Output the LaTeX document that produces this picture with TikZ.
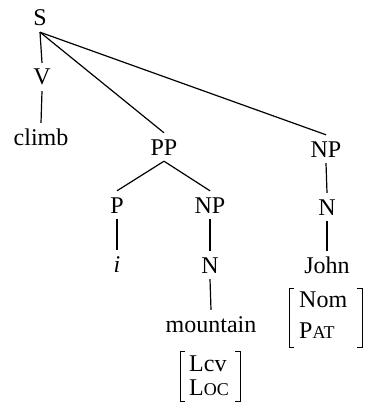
\documentclass[tikz,border=0pt]{standalone}
\usepackage{fontspec}
\setmainfont{Liberation Serif}
\newcommand{\fsc}[1]{{\fontsize{18}{20}\selectfont #1}}
\begin{document}
\begin{tikzpicture}[x=1pt,y=1pt,
  lab/.style={anchor=base,inner xsep=1pt,inner ysep=6pt,text height=16pt,text depth=0pt,font=\fontsize{24}{26}\selectfont},
  row/.style={anchor=base west,inner sep=0pt,font=\fontsize{24}{26}\selectfont},
  edge/.style={line width=1.2pt},
  brk/.style={line width=1pt}]
\useasboundingbox (0,0) rectangle (366,-409);
\node[lab] (S) at (40,-26) {S};
\node[lab] (V) at (42,-85) {V};
\node[lab] (climb) at (41,-145) {climb};
\node[lab] (PP) at (164,-155) {PP};
\node[lab] (NPr) at (326,-157) {NP};
\node[lab] (P) at (117,-213) {P};
\node[lab] (NPm) at (210,-213) {NP};
\node[lab] (i) at (117,-272) {\textit{i}};
\node[lab] (Nm) at (210,-273) {N};
\node[lab] (mountain) at (211,-332) {mountain};
\node[lab] (Nr) at (327,-215) {N};
\node[lab] (John) at (327,-273) {John};
% feature rows
\node[row] (lcv) at (189,-371) {Lcv};
\node[row] (loc) at (189,-395) {L\fsc{OC}};
\node[row] (nom) at (299,-307) {Nom};
\node[row] (pat) at (299,-338) {P\fsc{AT}};
% brackets
\draw[brk] (185,-351) -- (180,-351) -- (180,-401) -- (185,-401);
\draw[brk] (235,-351) -- (240,-351) -- (240,-401) -- (235,-401);
\draw[brk] (294,-288) -- (289,-288) -- (289,-347) -- (294,-347);
\draw[brk] (357,-288) -- (362,-288) -- (362,-347) -- (357,-347);
% tree edges
\draw[edge] (S.south) -- (V.north);
\draw[edge] (V.south) -- (climb.north);
\draw[edge] (S.south) -- (PP.north);
\draw[edge] (S.south) -- (NPr.north);
\draw[edge] (PP.south) -- (P.north);
\draw[edge] (PP.south) -- (NPm.north);
\draw[edge] (P.south) -- (i.north);
\draw[edge] (NPm.south) -- (Nm.north);
\draw[edge] (Nm.south) -- (mountain.north);
\draw[edge] (NPr.south) -- (Nr.north);
\draw[edge] (Nr.south) -- (John.north);
\end{tikzpicture}
\end{document}
